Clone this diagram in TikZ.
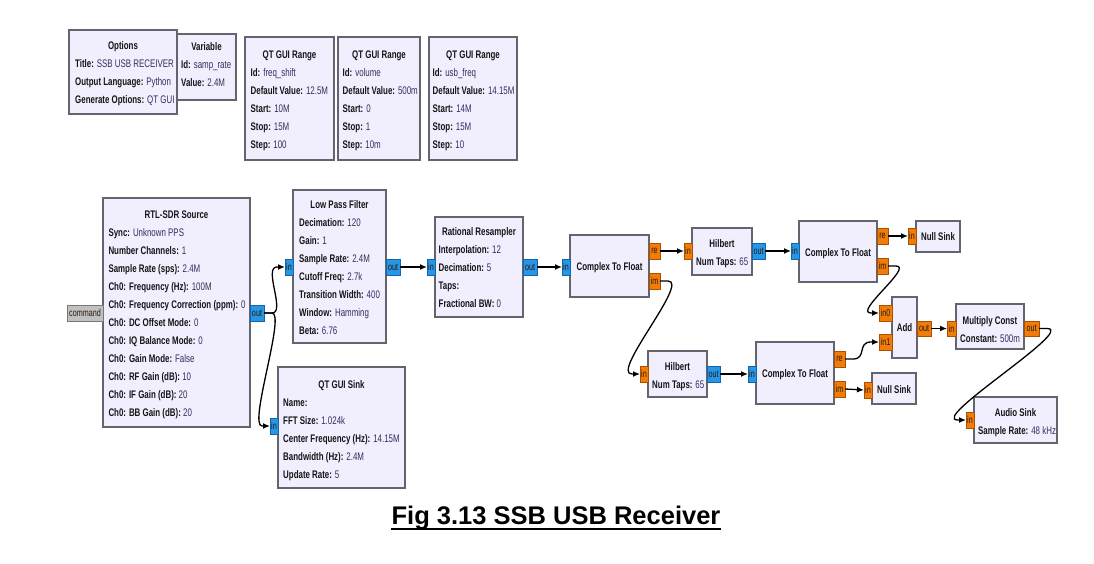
\documentclass[tikz,border=0pt]{standalone}
\usepackage{fontspec}
\setmainfont{Liberation Sans}[FakeStretch=0.72]
\newfontfamily\capfont{Liberation Sans}
\usetikzlibrary{arrows.meta,calc}
\definecolor{blkfill}{RGB}{241,239,253}
\definecolor{blkdraw}{RGB}{100,100,110}
\definecolor{cplx}{RGB}{40,150,230}
\definecolor{cplxd}{RGB}{20,100,170}
\definecolor{flt}{RGB}{240,125,10}
\definecolor{fltd}{RGB}{170,80,0}
\definecolor{msg}{RGB}{192,192,192}
\definecolor{msgd}{RGB}{120,120,120}
\definecolor{valc}{RGB}{50,45,95}
\definecolor{keyc}{RGB}{20,20,25}
\definecolor{porttxt}{RGB}{40,25,10}
\tikzset{
 blk/.style={draw=blkdraw, fill=blkfill, line width=1.4pt, inner sep=0pt, outer sep=0pt},
 ttlsty/.style={font=\bfseries\fontsize{11}{13}\selectfont, text=keyc, inner sep=0pt},
 txt/.style={font=\fontsize{11}{13}\selectfont, inner sep=0pt},
 pt/.style={line width=0.6pt, inner sep=0pt, outer sep=0pt, font=\fontsize{10}{11}\selectfont, text=porttxt},
 cpx/.style={pt, fill=cplx, draw=cplxd},
 flo/.style={pt, fill=flt, draw=fltd},
 msgp/.style={pt, fill=msg, draw=msgd},
 conn/.style={draw=black, line width=1.3pt, -{Latex[length=7pt,width=6pt]}},
}
\newcommand\kv[2]{{\bfseries\color{keyc}#1:} {\color{valc}#2}}
\newcommand\blk[5]{\node[blk, anchor=north west, minimum width={#4-#2}, minimum height={#5-#3}] (#1) at (#2,#3) {};}
\newcommand\port[7]{\node[#6, anchor=north west, minimum width={#4-#2}, minimum height={#5-#3}] (#1) at (#2,#3) {#7};}
\newcommand\ttl[4]{\node[ttlsty, anchor=base] (#1) at (#2,{#3+4}) {#4};}
\newcommand\lns[4]{\foreach \myl [count=\myi] in {#4} {\node[txt, anchor=base west] (#1\myi) at (#2,{#3+4+18*(\myi-1)}) {\myl};}}
\begin{document}
\begin{tikzpicture}[x=1pt,y=-1pt]
\useasboundingbox (0,0) rectangle (1094,564);
\fill[white] (0,0) rectangle (1094,564);

% ---------- variable blocks ----------
\blk{opt}{69}{30}{177}{114}
\ttl{optT}{123}{46}{Options}
\lns{optL}{75}{64}{{\kv{Title}{SSB USB RECEIVER}},{\kv{Output Language}{Python}},{\kv{Generate Options}{QT GUI}}}

\blk{var}{177}{34}{236}{100}
\ttl{varT}{206.5}{47}{Variable}
\lns{varL}{181}{65}{{\kv{Id}{samp\_rate}},{\kv{Value}{2.4M}}}

\blk{rg1}{245}{37}{334}{160}
\ttl{rg1T}{289.5}{55}{QT GUI Range}
\lns{rg1L}{250.5}{73}{{\kv{Id}{freq\_shift}},{\kv{Default Value}{12.5M}},{\kv{Start}{10M}},{\kv{Stop}{15M}},{\kv{Step}{100}}}

\blk{rg2}{338}{37}{420}{160}
\ttl{rg2T}{379}{55}{QT GUI Range}
\lns{rg2L}{342.5}{73}{{\kv{Id}{volume}},{\kv{Default Value}{500m}},{\kv{Start}{0}},{\kv{Stop}{1}},{\kv{Step}{10m}}}

\blk{rg3}{429}{37}{517}{160}
\ttl{rg3T}{473}{55}{QT GUI Range}
\lns{rg3L}{432.5}{73}{{\kv{Id}{usb\_freq}},{\kv{Default Value}{14.15M}},{\kv{Start}{14M}},{\kv{Stop}{15M}},{\kv{Step}{10}}}

% ---------- RTL-SDR Source ----------
\blk{rtl}{103}{198}{250}{427}
\ttl{rtlT}{176.5}{214}{RTL-SDR Source}
\lns{rtlL}{108.3}{232}{{\kv{Sync}{Unknown PPS}},{\kv{Number Channels}{1}},{\kv{Sample Rate (sps)}{2.4M}},{\kv{Ch0: Frequency (Hz)}{100M}},{\kv{Ch0: Frequency Correction (ppm)}{0}},{\kv{Ch0: DC Offset Mode}{0}},{\kv{Ch0: IQ Balance Mode}{0}},{\kv{Ch0: Gain Mode}{False}},{\kv{Ch0: RF Gain (dB)}{10}},{\kv{Ch0: IF Gain (dB)}{20}},{\kv{Ch0: BB Gain (dB)}{20}}}
\port{rtlc}{67}{305}{103}{321}{msgp}{command}
\port{rtlo}{250}{305}{264}{321}{cpx}{out}

% ---------- Low Pass Filter ----------
\blk{lpf}{293}{190}{386}{343}
\ttl{lpfT}{339.5}{204}{Low Pass Filter}
\lns{lpfL}{299}{222}{{\kv{Decimation}{120}},{\kv{Gain}{1}},{\kv{Sample Rate}{2.4M}},{\kv{Cutoff Freq}{2.7k}},{\kv{Transition Width}{400}},{\kv{Window}{Hamming}},{\kv{Beta}{6.76}}}
\port{lpfi}{285}{259}{293}{275}{cpx}{in}
\port{lpfo}{386}{259}{400}{275}{cpx}{out}

% ---------- Rational Resampler ----------
\blk{rr}{435}{217}{523}{317}
\ttl{rrT}{479}{231}{Rational Resampler}
\lns{rrL}{438.5}{249}{{\kv{Interpolation}{12}},{\kv{Decimation}{5}},{\kv{Taps}{}},{\kv{Fractional BW}{0}}}
\port{rri}{427}{259}{435}{275}{cpx}{in}
\port{rro}{523}{259}{537}{275}{cpx}{out}

% ---------- Complex To Float 1 ----------
\blk{ctfa}{570}{235}{649}{297}
\ttl{ctfaT}{609.5}{266}{Complex To Float}
\port{ctfai}{562}{259}{570}{275}{cpx}{in}
\port{ctfare}{649}{243}{660}{259}{flo}{re}
\port{ctfaim}{649}{273}{660}{289}{flo}{im}

% ---------- Hilbert 1 ----------
\blk{hila}{692}{228}{752}{275}
\ttl{hilaT}{722}{243}{Hilbert}
\lns{hilaL}{696}{261}{{\kv{Num Taps}{65}}}
\port{hilai}{684}{243}{692}{259}{flo}{in}
\port{hilao}{752}{243}{765}{259}{cpx}{out}

% ---------- Complex To Float 2 ----------
\blk{ctfb}{799}{221}{877}{282}
\ttl{ctfbT}{838}{252}{Complex To Float}
\port{ctfbi}{791}{243}{799}{259}{cpx}{in}
\port{ctfbre}{877}{228}{888}{244}{flo}{re}
\port{ctfbim}{877}{258}{888}{274}{flo}{im}

% ---------- Null Sink 1 ----------
\blk{nsa}{916}{221}{960}{252}
\ttl{nsaT}{938}{236}{Null Sink}
\port{nsai}{908}{228}{916}{244}{flo}{in}

% ---------- Add ----------
\blk{add}{892}{297}{917}{358}
\ttl{addT}{904.5}{327}{Add}
\port{addia}{879}{305}{892}{321}{flo}{in0}
\port{addib}{879}{334}{892}{350}{flo}{in1}
\port{addo}{917}{321}{931}{336}{flo}{out}

% ---------- Multiply Const ----------
\blk{mc}{956}{304}{1024}{349}
\ttl{mcT}{990}{320}{Multiply Const}
\lns{mcL}{960}{338}{{\kv{Constant}{500m}}}
\port{mci}{947}{321}{956}{336}{flo}{in}
\port{mco}{1024}{321}{1039}{336}{flo}{out}

% ---------- Audio Sink ----------
\blk{as}{974}{397}{1057}{443}
\ttl{asT}{1015.5}{412}{Audio Sink}
\lns{asL}{978}{430}{{\kv{Sample Rate}{48 kHz}}}
\port{asi}{966}{412}{974}{428}{flo}{in}

% ---------- Hilbert 2 ----------
\blk{hilb}{648}{351}{707}{397}
\ttl{hilbT}{677.5}{366}{Hilbert}
\lns{hilbL}{652}{384}{{\kv{Num Taps}{65}}}
\port{hilbi}{640}{366}{648}{382}{flo}{in}
\port{hilbo}{707}{366}{720}{382}{cpx}{out}

% ---------- Complex To Float 3 ----------
\blk{ctfc}{756}{342}{834}{404}
\ttl{ctfcT}{795}{373}{Complex To Float}
\port{ctfci}{748}{366}{756}{382}{cpx}{in}
\port{ctfcre}{834}{351}{845}{367}{flo}{re}
\port{ctfcim}{834}{381}{845}{397}{flo}{im}

% ---------- Null Sink 2 ----------
\blk{nsb}{872}{373}{916}{404}
\ttl{nsbT}{894}{389}{Null Sink}
\port{nsbi}{864}{382}{872}{398}{flo}{in}

% ---------- QT GUI Sink ----------
\blk{qs}{278}{367}{405}{488}
\ttl{qsT}{341.5}{384}{QT GUI Sink}
\lns{qsL}{283}{402}{{\kv{Name}{}},{\kv{FFT Size}{1.024k}},{\kv{Center Frequency (Hz)}{14.15M}},{\kv{Bandwidth (Hz)}{2.4M}},{\kv{Update Rate}{5}}}
\port{qsi}{270}{418}{278}{434}{cpx}{in}

% ---------- connections ----------
\draw[conn] (rtlo.east) -- ++(8,0) .. controls +(14,0) and +(-14,0) .. ($(lpfi.west)+(-8,0)$) -- (lpfi.west);
\draw[conn] (rtlo.east) -- ++(8,0) .. controls +(14,0) and +(-14,0) .. ($(qsi.west)+(-8,0)$) -- (qsi.west);
\draw[conn] (lpfo.east) -- (rri.west);
\draw[conn] (rro.east) -- (ctfai.west);
\draw[conn] (ctfare.east) -- (hilai.west);
\draw[conn] (ctfaim.east) -- ++(8,0) .. controls +(22,0) and +(-22,0) .. ($(hilbi.west)+(-8,0)$) -- (hilbi.west);
\draw[conn] (hilao.east) -- (ctfbi.west);
\draw[conn] (ctfbre.east) -- (nsai.west);
\draw[conn] (ctfbim.east) -- ++(8,0) .. controls +(18,0) and +(-18,0) .. ($(addia.west)+(-8,0)$) -- (addia.west);
\draw[conn] (hilbo.east) -- (ctfci.west);
\draw[conn] (ctfcre.east) -- ++(8,0) .. controls +(14,0) and +(-14,0) .. ($(addib.west)+(-8,0)$) -- (addib.west);
\draw[conn] (ctfcim.east) -- (nsbi.west);
\draw[conn] (addo.east) -- (mci.west);
\draw[conn] (mco.east) -- ++(8,0) .. controls +(30,0) and +(-30,0) .. ($(asi.west)+(-8,0)$) -- (asi.west);

% ---------- caption ----------
\node[font=\capfont\bfseries\fontsize{25.5}{30}\selectfont, anchor=base, inner sep=0pt] (cap) at (556,524) {Fig 3.13 SSB USB Receiver};
\draw[line width=2pt] ($(cap.base west)+(0,5)$) -- ($(cap.base east)+(0,5)$);
\end{tikzpicture}
\end{document}
